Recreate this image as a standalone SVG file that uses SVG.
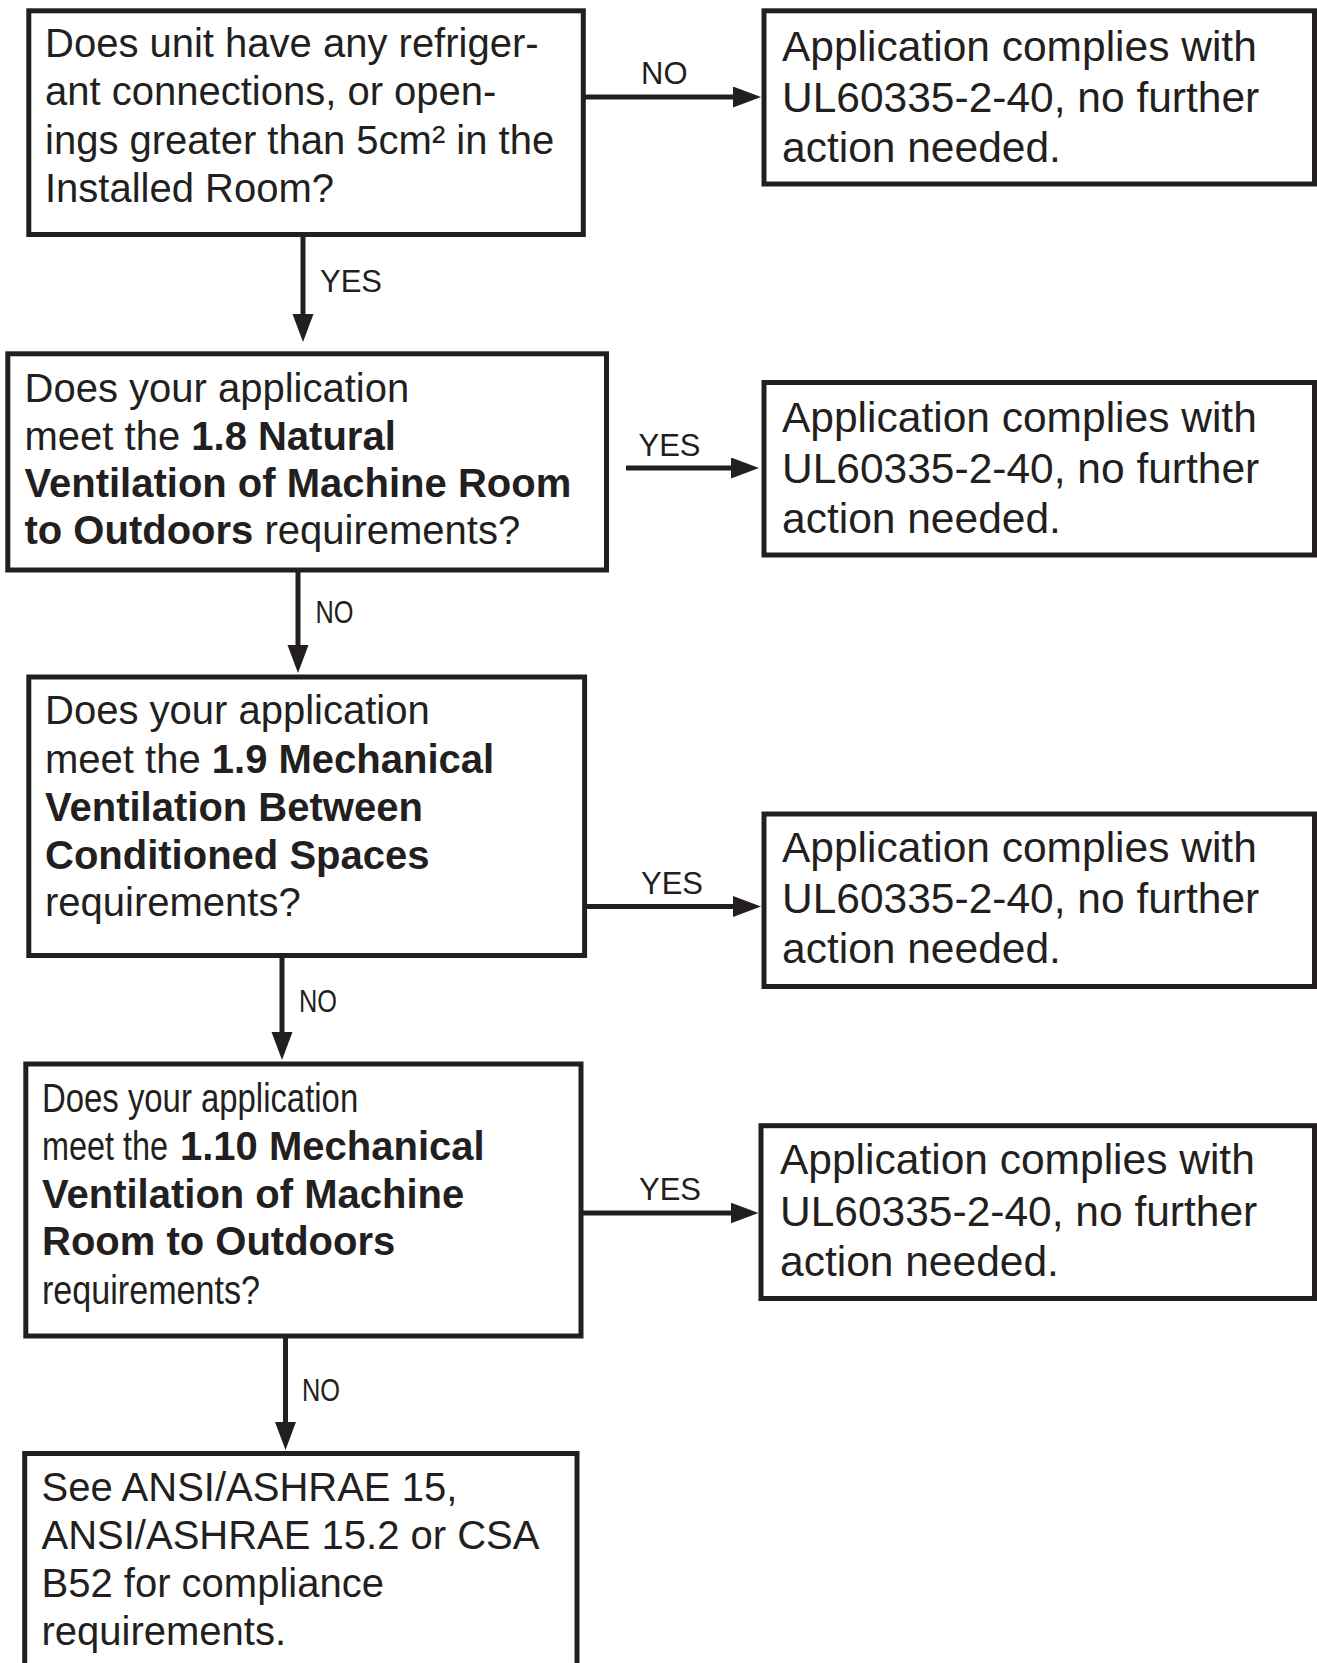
<svg xmlns="http://www.w3.org/2000/svg" width="1317" height="1663" viewBox="0 0 1317 1663">
<style>
.box{fill:#fff;stroke:#231f20;stroke-width:5}
.t{font-family:"Liberation Sans",Arial,Helvetica,sans-serif;font-size:40px;fill:#231f20}
.tr{font-size:42.5px}
.b{font-weight:bold}
.lbl{font-family:"Liberation Sans",Arial,Helvetica,sans-serif;font-size:31px;fill:#231f20}
.conn{stroke:#231f20;stroke-width:5;fill:none}
</style>
<defs>
<marker id="ah" markerUnits="userSpaceOnUse" markerWidth="30" markerHeight="22" refX="1" refY="10.5" orient="auto">
<path d="M0,0 L28,10.5 L0,21 z" fill="#231f20"/>
</marker>
</defs>
<rect width="1317" height="1663" fill="#fff"/>

<g id="connectors">
<path class="conn" d="M585,97 H734" marker-end="url(#ah)"/>
<path class="conn" d="M303,236 V315" marker-end="url(#ah)"/>
<path class="conn" d="M626,468 H732" marker-end="url(#ah)"/>
<path class="conn" d="M298,572 V646" marker-end="url(#ah)"/>
<path class="conn" d="M586,906.5 H734" marker-end="url(#ah)"/>
<path class="conn" d="M282,957 V1033" marker-end="url(#ah)"/>
<path class="conn" d="M583,1213 H731.5" marker-end="url(#ah)"/>
<path class="conn" d="M285.5,1338 V1423" marker-end="url(#ah)"/>
<text class="lbl" x="641" y="84">NO</text>
<text class="lbl" x="320" y="292">YES</text>
<text class="lbl" x="638.5" y="456">YES</text>
<text class="lbl" x="315.5" y="622.5" textLength="38" lengthAdjust="spacingAndGlyphs">NO</text>
<text class="lbl" x="641" y="894">YES</text>
<text class="lbl" x="299" y="1012" textLength="38" lengthAdjust="spacingAndGlyphs">NO</text>
<text class="lbl" x="639" y="1200">YES</text>
<text class="lbl" x="302" y="1401" textLength="38" lengthAdjust="spacingAndGlyphs">NO</text>
</g>

<g id="q1">
<rect class="box" x="28.8" y="10.8" width="554.5" height="223.7"/>
<text class="t" x="45" y="57">Does unit have any refriger-</text>
<text class="t" x="45" y="105">ant connections, or open-</text>
<text class="t" x="45" y="153.5">ings greater than 5cm² in the</text>
<text class="t" x="45" y="201.5">Installed Room?</text>
</g>

<g id="r1">
<rect class="box" x="764" y="10.8" width="550.5" height="173.2"/>
<text class="t tr" x="782" y="60.5">Application complies with</text>
<text class="t tr" x="782" y="112">UL60335-2-40, no further</text>
<text class="t tr" x="782" y="162">action needed.</text>
</g>

<g id="q2">
<rect class="box" x="7.8" y="353.8" width="598.7" height="216.2"/>
<text class="t" x="24.5" y="401.5">Does your application</text>
<text class="t" x="24.5" y="449.5">meet the <tspan class="b">1.8 Natural</tspan></text>
<text class="t b" x="24.5" y="496.5">Ventilation of Machine Room</text>
<text class="t" x="24.5" y="543.5"><tspan class="b">to Outdoors</tspan> requirements?</text>
</g>

<g id="r2">
<rect class="box" x="764" y="382.5" width="550.5" height="172.5"/>
<text class="t tr" x="782" y="431.5">Application complies with</text>
<text class="t tr" x="782" y="482.5">UL60335-2-40, no further</text>
<text class="t tr" x="782" y="533">action needed.</text>
</g>

<g id="q3">
<rect class="box" x="28.8" y="677" width="555.8" height="278.5"/>
<text class="t" x="45" y="724">Does your application</text>
<text class="t" x="45" y="773">meet the <tspan class="b">1.9 Mechanical</tspan></text>
<text class="t b" x="45" y="821">Ventilation Between</text>
<text class="t b" x="45" y="868.5">Conditioned Spaces</text>
<text class="t" x="45" y="915.5">requirements?</text>
</g>

<g id="r3">
<rect class="box" x="764" y="814" width="550.5" height="172.5"/>
<text class="t tr" x="782" y="862">Application complies with</text>
<text class="t tr" x="782" y="913">UL60335-2-40, no further</text>
<text class="t tr" x="782" y="963">action needed.</text>
</g>

<g id="q4">
<rect class="box" x="25.8" y="1064" width="555.2" height="272"/>
<text class="t" transform="translate(42,1111.5) scale(0.822,1)" x="0" y="0">Does your application</text>
<text class="t" transform="translate(42,1160) scale(0.81,1)" x="0" y="0">meet the</text>
<text class="t b" x="180" y="1160">1.10 Mechanical</text>
<text class="t b" x="42" y="1207.5">Ventilation of Machine</text>
<text class="t b" x="42" y="1255">Room to Outdoors</text>
<text class="t" transform="translate(42,1303.5) scale(0.853,1)" x="0" y="0">requirements?</text>
</g>

<g id="r4">
<rect class="box" x="761" y="1125.7" width="553.5" height="172.8"/>
<text class="t tr" x="780" y="1174">Application complies with</text>
<text class="t tr" x="780" y="1225.5">UL60335-2-40, no further</text>
<text class="t tr" x="780" y="1275.5">action needed.</text>
</g>

<g id="end">
<rect class="box" x="24.7" y="1453.5" width="552.3" height="300"/>
<text class="t" x="41.5" y="1500.5">See ANSI/ASHRAE 15,</text>
<text class="t" x="41.5" y="1548.5">ANSI/ASHRAE 15.2 or CSA</text>
<text class="t" x="41.5" y="1597">B52 for compliance</text>
<text class="t" x="41.5" y="1644.5">requirements.</text>
</g>
</svg>
